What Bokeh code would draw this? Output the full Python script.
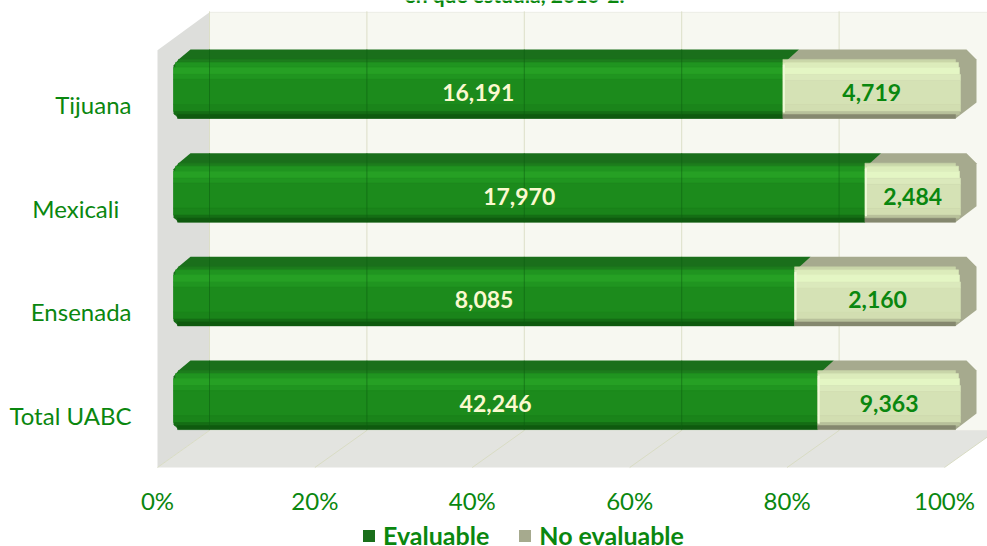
from bokeh.embed import file_html
from bokeh.resources import INLINE
from bokeh.plotting import figure
from bokeh.models import Range1d, FixedTicker, Legend, LegendItem, Label
from bokeh.core.properties import value

# ---- data (bottom to top) ----
categories = ["Total UABC", "Ensenada", "Mexicali\u00a0\u00a0", "Tijuana"]
evaluable = [42246, 8085, 17970, 16191]
no_evaluable = [9363, 2160, 2484, 4719]
pct_ticks = [0, 20, 40, 60, 80, 100]
series_names = ["Evaluable", "No evaluable"]
title_text = "en qué estudia, 2010-2."

GREEN_TXT = "#0a870f"
FONT = "Lato"

# ---- scale: pixels per data unit ----
XS, YS = 7.87, 103.7
def dx(px): return px / XS
def dy(px): return -px / YS   # offset downwards in pixels

p = figure(width=987, height=546, output_backend="svg", toolbar_location=None,
           x_range=Range1d(-20 / XS, 830 / XS), y_range=Range1d(-0.5 - 79 / YS, 415 / YS),
           min_border_left=137, min_border_right=0, min_border_top=0, min_border_bottom=0,
           background_fill_color="white", border_fill_color="white", outline_line_color=None)
p.grid.visible = False

# ---- axes ----
ax = p.xaxis[0]
ax.fixed_location = -0.5
ax.ticker = FixedTicker(ticks=pct_ticks)
ax.major_label_overrides = {t: f"{t}%" for t in pct_ticks}
ay = p.yaxis[0]
ay.ticker = FixedTicker(ticks=list(range(len(categories))))
ay.major_label_overrides = {i: c for i, c in enumerate(categories)}
for a in (ax, ay):
    a.axis_line_color = None
    a.major_tick_line_color = None
    a.minor_tick_line_color = None
    a.major_label_text_color = GREEN_TXT
    a.major_label_text_font = FONT
    a.major_label_text_font_size = "24px"
ax.major_label_standoff = 13
ay.major_label_standoff = 0

# ---- 3D box: walls and floor ----
DEPTH = dx(52)
y_floor_front = -0.5
y_floor_back = y_floor_front + 37 / YS
y_top_back = y_floor_back + 418 / YS
y_top_front = y_top_back - 38 / YS
p.patch([DEPTH, 110, 110, DEPTH], [y_floor_back, y_floor_back, y_top_back, y_top_back],
        fill_color="#f7f8f1", line_color="#ecece6")
p.patch([0, DEPTH, DEPTH, 0], [y_floor_front, y_floor_back, y_top_back, y_top_front],
        fill_color="#dddedb", line_color=None)
p.patch([0, DEPTH, 100 + DEPTH, 100], [y_floor_front, y_floor_back, y_floor_back, y_floor_front],
        fill_color="#e3e4e0", line_color=None)
p.segment([t + DEPTH for t in pct_ticks], [y_floor_back] * 6,
          [t + DEPTH for t in pct_ticks], [y_top_back + 1 / YS] * 6,
          line_color="#dcdfc8", line_width=1)
p.segment(pct_ticks, [y_floor_front] * 6, [t + DEPTH for t in pct_ticks], [y_floor_back] * 6,
          line_color="#d9dcc4", line_width=1)

# ---- bars ----
X0 = dx(16)           # front face of 0 %
SPAN = 100.0
TOP, FTOP, BOT = -55, -45, 14   # silhouette, front-face top, bottom (px from label centre)
y0s = list(range(len(categories)))
totals = [a + b for a, b in zip(evaluable, no_evaluable)]
splits = [X0 + SPAN * a / t for a, t in zip(evaluable, totals)]
ends = [X0 + SPAN] * len(categories)

green_sil_x, green_sil_y, light_sil_x, light_sil_y = [], [], [], []
for y, s in zip(y0s, splits):
    green_sil_x.append([X0, X0, X0 + dx(5), X0 + dx(17), s + dx(16), s, X0 + dx(5)])
    green_sil_y.append([y + dy(BOT - 5), y + dy(FTOP + 6), y + dy(FTOP), y + dy(TOP), y + dy(TOP),
                        y + dy(BOT), y + dy(BOT)])
    light_sil_x.append([s, s, s + dx(5), s + dx(16), X0 + SPAN + dx(6), X0 + SPAN + dx(16),
                        X0 + SPAN + dx(16), X0 + SPAN - dx(5)])
    light_sil_y.append([y + dy(BOT), y + dy(FTOP + 6), y + dy(FTOP), y + dy(TOP), y + dy(TOP),
                        y + dy(TOP + 10), y + dy(BOT - 16), y + dy(BOT)])

r_green = p.patches(green_sil_x, green_sil_y, fill_color="#1a6f1b", line_color=None)
green_bands = [
    (-45, -42, "#1d7c1d", 5), (-42, -37, "#209420", 2), (-37, -30, "#26a024", 0),
    (-30, -25, "#209520", 0), (-25, 0, "#1c8b1c", 0), (0, 7, "#1a841a", 0),
    (7, 10, "#156d15", 1), (10, 14, "#0f5a0f", 4),
]
for t, b, c, ins in green_bands:
    p.hbar(y=[y + dy((t + b) / 2) for y in y0s], height=(b - t) / YS,
           left=[X0 + dx(ins)] * len(y0s), right=splits, fill_color=c, line_color=c, line_width=0.5)

# gridlines seen through the green segment
gx, gy0, gy1 = [], [], []
for y, s in zip(y0s, splits):
    for t in pct_ticks:
        if t + DEPTH < s:
            gx.append(t + DEPTH); gy0.append(y + dy(TOP)); gy1.append(y + dy(BOT))
p.segment(gx, gy0, gx, gy1, line_color="#0c5f10", line_alpha=0.55, line_width=1)

r_light = p.patches(light_sil_x, light_sil_y, fill_color="#a6aa8e", line_color=None)
light_bands = [
    (-45, -42, "#c9d6a9", 5), (-42, -37, "#dcecbb", 2), (-37, -30, "#e4f6c4", 1),
    (-30, -24, "#dbe9bc", 0), (-24, 0, "#d5e2b5", 0), (0, 7, "#d2deb1", 0),
    (7, 10, "#b8c19b", 1), (10, 14, "#85886f", 5),
]
for t, b, c, ins in light_bands:
    p.hbar(y=[y + dy((t + b) / 2) for y in y0s], height=(b - t) / YS,
           left=splits, right=[e - dx(ins) for e in ends], fill_color=c, line_color=c, line_width=0.5)
# bright lit edge where the pale segment starts
p.hbar(y=[y + dy(-16) for y in y0s], height=48 / YS, left=splits,
       right=[s + dx(2) for s in splits], fill_color="#eef9d6", line_color=None)

# ---- value labels ----
lab_y = [y + dy(-12) for y in y0s]
p.text(x=[(X0 + s) / 2 for s in splits], y=lab_y, text=[f"{v:,}" for v in evaluable],
       text_color="#fbf9cf", text_font=value(FONT), text_font_style="bold", text_font_size="23px",
       text_align="center", text_baseline="middle")
p.text(x=[(s + e) / 2 for s, e in zip(splits, ends)], y=lab_y, text=[f"{v:,}" for v in no_evaluable],
       text_color=GREEN_TXT, text_font=value(FONT), text_font_style="bold", text_font_size="23px",
       text_align="center", text_baseline="middle")

# ---- clipped title ----
p.add_layout(Label(x=(514 - 157) / XS, y=415 / YS, y_offset=-6, text=title_text,
                   text_color=GREEN_TXT, text_font=FONT, text_font_style="bold", text_font_size="21px",
                   text_align="center", text_baseline="bottom"))

# ---- legend ----
legend = Legend(items=[LegendItem(label=series_names[0], renderers=[r_green]),
                       LegendItem(label=series_names[1], renderers=[r_light])],
                orientation="horizontal", location=(224, -4),
                background_fill_alpha=0, border_line_color=None, margin=0, padding=0,
                spacing=28, glyph_width=15, glyph_height=15, label_standoff=7,
                label_text_color=GREEN_TXT, label_text_font=FONT, label_text_font_style="bold",
                label_text_font_size="25px")
p.add_layout(legend, "center")

open("out.html", "w").write(file_html(p, INLINE))
